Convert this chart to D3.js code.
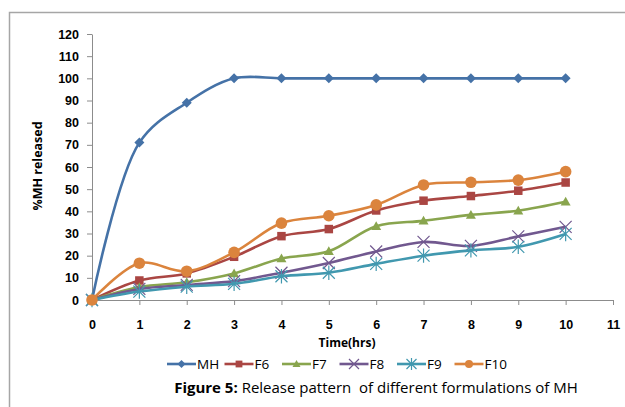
<!DOCTYPE html>
<html lang="en">
<head>
<meta charset="UTF-8">
<title>Release pattern of different formulations of MH</title>
<script src="https://cdn.jsdelivr.net/npm/d3@7/dist/d3.min.js"></script>
<style>
  body { margin: 0; background: #fff; }
  svg { display: block; font-family: "Open Sans", "Liberation Sans", sans-serif; }
  .tick text { font-weight: bold; font-size: 12.5px; fill: #000; }
  .axis path, .axis line { stroke: #8c8c8c; }
</style>
</head>
<body>
<div id="chart"></div>
<script>
// data
var hours = [0, 1, 2, 3, 4, 5, 6, 7, 8, 9, 10];
var MH  = [0, 71, 89, 100, 100, 100, 100, 100, 100, 100, 100];
var F6  = [0, 8.8, 12, 19.5, 28.8, 32, 40.4, 44.8, 46.9, 49.3, 53];
var F7  = [0, 5.8, 8, 12, 18.7, 22, 33.3, 35.7, 38.4, 40.3, 44.3];
var F8  = [0, 5, 6.8, 8.5, 12.3, 16.7, 21.9, 26.2, 24.4, 28.7, 33];
var F9  = [0, 3.8, 6, 7.3, 10.7, 12.3, 16.3, 20, 22.4, 24, 29.8];
var F10 = [0, 16.6, 13, 21.5, 34.7, 38, 42.9, 51.9, 53.1, 54.1, 57.9];
var seriesNames = ["MH", "F6", "F7", "F8", "F9", "F10"];
var seriesValues = [MH, F6, F7, F8, F9, F10];
var colors = ["#4572A7", "#AA4643", "#89A54E", "#71588F", "#4198AF", "#DB843D"];
var markers = ["diamond", "square", "triangle", "x", "star", "circle"];
var yTicks = d3.range(0, 121, 10);
var xTicks = d3.range(0, 12, 1);

var W = 625, H = 407;
var svg = d3.select("#chart").append("svg").attr("width", W).attr("height", H);

// outer chart border (runs off the right and bottom)
svg.append("path")
  .attr("d", "M9.5," + H + "V12.5H" + W)
  .attr("fill", "none").attr("stroke", "#a6a6a6").attr("stroke-width", 1.5);

var x = d3.scaleLinear().domain([0, 11]).range([92, 613]);
var y = d3.scaleLinear().domain([0, 120]).range([300, 34]);

svg.append("g").attr("class", "axis")
  .attr("transform", "translate(0,300)")
  .call(d3.axisBottom(x).tickValues(xTicks).tickSize(5).tickPadding(15).tickSizeOuter(0));
svg.append("g").attr("class", "axis")
  .attr("transform", "translate(92,0)")
  .call(d3.axisLeft(y).tickValues(yTicks).tickSize(5).tickPadding(8).tickSizeOuter(0));

svg.append("text")
  .attr("transform", "translate(42,166) rotate(-90)")
  .attr("text-anchor", "middle").attr("font-weight", "bold").attr("font-size", 12.5)
  .text("%MH released");
svg.append("text")
  .attr("x", 347).attr("y", 347)
  .attr("text-anchor", "middle").attr("font-weight", "bold").attr("font-size", 12)
  .text("Time(hrs)");

function drawMarker(g, type, color, cx, cy, s) {
  if (type === "diamond") {
    g.append("path").attr("d", "M" + cx + "," + (cy - s) + "L" + (cx + s) + "," + cy + "L" + cx + "," + (cy + s) + "L" + (cx - s) + "," + cy + "Z").attr("fill", color);
  } else if (type === "square") {
    g.append("rect").attr("x", cx - s * 0.85).attr("y", cy - s * 0.85).attr("width", s * 1.7).attr("height", s * 1.7).attr("fill", color);
  } else if (type === "triangle") {
    g.append("path").attr("d", "M" + cx + "," + (cy - s) + "L" + (cx + s) + "," + (cy + s * 0.75) + "L" + (cx - s) + "," + (cy + s * 0.75) + "Z").attr("fill", color);
  } else if (type === "circle") {
    g.append("circle").attr("cx", cx).attr("cy", cy).attr("r", s).attr("fill", color);
  } else {
    var d = "M" + (cx - s) + "," + (cy - s) + "L" + (cx + s) + "," + (cy + s) + "M" + (cx - s) + "," + (cy + s) + "L" + (cx + s) + "," + (cy - s);
    if (type === "star") d += "M" + cx + "," + (cy - s * 1.2) + "L" + cx + "," + (cy + s * 1.2);
    g.append("path").attr("d", d).attr("stroke", color).attr("stroke-width", 1.2).attr("fill", "none");
  }
}

var line = d3.line().curve(d3.curveCatmullRom.alpha(0.5))
  .x(function (d, i) { return x(hours[i]); })
  .y(function (d) { return y(d); });

var sizes = [5, 5, 5, 6, 6, 5.8];
seriesValues.forEach(function (vals, k) {
  var g = svg.append("g");
  g.append("path").attr("d", line(vals)).attr("fill", "none")
    .attr("stroke", colors[k]).attr("stroke-width", 2.6);
  vals.forEach(function (v, i) {
    drawMarker(g, markers[k], colors[k], x(hours[i]), y(v), sizes[k]);
  });
});

// legend
var leg = svg.append("g");
seriesNames.forEach(function (name, k) {
  var lx = 167 + k * 57.5;
  leg.append("line").attr("x1", lx).attr("x2", lx + 29).attr("y1", 364).attr("y2", 364)
    .attr("stroke", colors[k]).attr("stroke-width", 2.6);
  drawMarker(leg, markers[k], colors[k], lx + 14.5, 364, markers[k] === "x" || markers[k] === "star" ? 5 : 4);
  leg.append("text").attr("x", lx + 30).attr("y", 369).attr("font-size", 13.5).text(name);
});

var cap = svg.append("text").attr("x", 376).attr("y", 393)
  .attr("text-anchor", "middle").attr("font-size", 15);
cap.append("tspan").attr("font-weight", "bold").text("Figure 5:");
cap.append("tspan").attr("xml:space", "preserve").text(" Release pattern  of different formulations of MH");
</script>
</body>
</html>
